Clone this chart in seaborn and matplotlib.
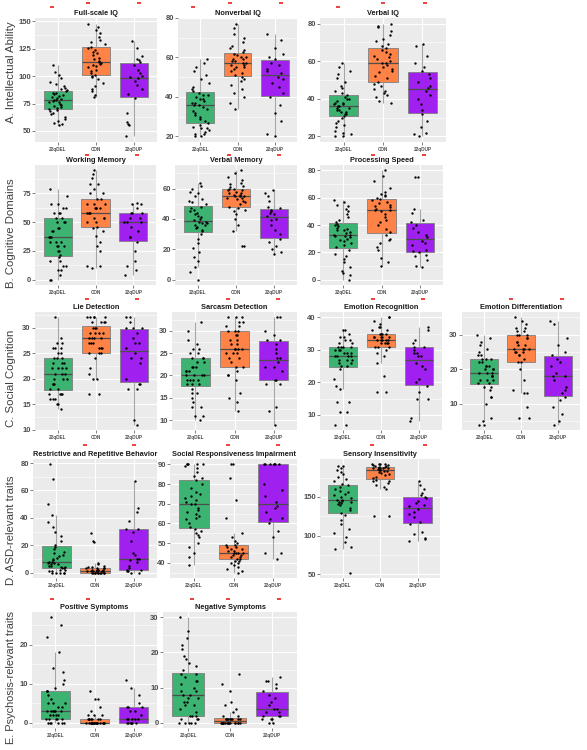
import numpy as np
import pandas as pd
import matplotlib
matplotlib.use('Agg')
import matplotlib.pyplot as plt
from matplotlib.ticker import AutoMinorLocator
import matplotlib.transforms as mtransforms
import seaborn as sns

plt.rcParams['font.family'] = ['Liberation Sans', 'DejaVu Sans']
np.random.seed(3)  # only for the strip jitter

groups = ['22qDEL', 'CON', '22qDUP']
colors = ['#3CB371', '#FF8247', '#A020F0']

# ---------------- data ----------------
# A. Intellectual ability
fsiq_del = [55, 56, 57, 59, 61, 63, 65, 66, 68, 69, 70, 71, 72, 73, 74, 75, 76, 76, 77, 78,
            78, 79, 80, 81, 82, 83, 84, 85, 85, 86, 87, 88, 89, 91, 93, 95, 98, 101, 104, 110]
fsiq_con = [81, 83, 86, 88, 91, 94, 97, 99, 100, 101, 103, 105, 106, 108, 109, 110, 111, 112,
            113, 114, 116, 117, 119, 121, 122, 124, 126, 127, 129, 131, 133, 136, 139, 142, 145, 148]
fsiq_dup = [45, 55, 56, 58, 66, 80, 84, 88, 92, 96, 98, 99, 100, 103, 106, 110, 113,
            115, 116, 118, 126, 132]

nviq_del = [20, 20, 21, 21, 22, 23, 24, 24, 25, 26, 27, 28, 29, 30, 31, 32, 33, 34, 35, 36,
            36, 37, 37, 38, 39, 39, 40, 41, 41, 42, 43, 44, 45, 47, 49, 51, 53, 55, 57, 59]
nviq_con = [34, 37, 40, 42, 44, 46, 48, 49, 50, 51, 52, 53, 54, 55, 55, 56, 56, 57,
            57, 58, 58, 59, 59, 60, 60, 61, 62, 63, 64, 65, 66, 68, 70, 72, 75, 77]
nviq_dup = [20, 21, 28, 32, 36, 40, 42, 45, 47, 49, 50, 52, 53, 54, 56, 57, 59,
            60, 62, 65, 69, 72]

viq_del = [20, 20, 21, 22, 23, 25, 26, 27, 28, 30, 31, 32, 32, 33, 33, 34, 34, 35, 35, 36,
           36, 37, 37, 38, 38, 39, 40, 40, 41, 42, 43, 44, 46, 47, 49, 51, 53, 55, 57, 59]
viq_con = [38, 39, 41, 42, 43, 44, 45, 47, 48, 49, 51, 52, 54, 55, 56, 57, 58, 59,
           59, 60, 61, 62, 63, 64, 65, 66, 67, 68, 69, 71, 72, 74, 76, 78, 79, 80]
viq_dup = [20, 21, 22, 25, 28, 32, 34, 37, 40, 42, 44, 46, 47, 49, 51, 53, 55,
           57, 59, 63, 68, 69]

# B. Cognitive domains
wm_del = [0, 0, 4, 8, 8, 12, 12, 16, 16, 20, 21, 25, 25, 29, 29, 29, 33, 33, 33, 37,
          37, 37, 42, 42, 45, 45, 50, 50, 50, 54, 54, 58, 58, 58, 62, 62, 66, 66, 73, 79]
wm_con = [10, 12, 12, 25, 29, 33, 38, 42, 45, 46, 50, 50, 54, 54, 54, 58, 58, 58,
          58, 62, 62, 62, 62, 66, 66, 66, 70, 70, 75, 75, 79, 83, 83, 88, 92, 95]
wm_dup = [4, 8, 12, 16, 25, 33, 37, 37, 42, 46, 50, 50, 50, 54, 54, 58, 58,
          58, 62, 66, 66, 67]

vm_del = [0, 5, 8, 12, 15, 18, 21, 24, 27, 30, 32, 33, 34, 35, 36, 36, 37, 37, 38, 38,
          39, 40, 41, 42, 43, 44, 45, 46, 47, 48, 50, 51, 52, 53, 55, 57, 58, 60, 62, 64]
vm_con = [22, 22, 32, 36, 40, 43, 45, 46, 47, 48, 50, 51, 52, 53, 54, 54, 55, 55,
          55, 56, 56, 57, 57, 58, 59, 59, 60, 60, 61, 62, 63, 64, 66, 68, 70, 72]
vm_dup = [17, 18, 20, 22, 25, 27, 30, 33, 36, 39, 40, 42, 43, 44, 45, 46, 47,
          48, 52, 55, 57, 59]

ps_del = [0, 3, 5, 6, 9, 13, 15, 17, 19, 22, 24, 25, 27, 28, 29, 30, 31, 32, 32, 33,
          33, 34, 35, 36, 36, 37, 38, 39, 40, 41, 42, 44, 46, 48, 50, 52, 54, 55, 57, 58]
ps_con = [10, 13, 16, 22, 24, 27, 29, 30, 33, 35, 37, 40, 42, 44, 46, 48, 50, 51,
          51, 52, 53, 54, 55, 56, 57, 58, 59, 60, 61, 62, 63, 64, 67, 72, 76, 80]
ps_dup = [9, 10, 14, 17, 18, 20, 21, 22, 25, 27, 28, 31, 33, 35, 38, 40, 42,
          44, 49, 52, 75, 75]

# C. Social cognition
lie_del = [14, 15, 15, 16, 16, 16, 17, 17, 17, 17, 18, 18, 19, 19, 19, 20, 20, 20, 21, 21,
           21, 22, 22, 22, 22, 23, 23, 23, 24, 24, 24, 25, 25, 26, 26, 26, 27, 27, 28, 32]
lie_con = [17, 17, 20, 20, 21, 22, 24, 25, 25, 25, 26, 26, 26, 27, 27, 27, 28, 28,
           28, 28, 29, 29, 29, 29, 30, 30, 30, 31, 31, 31, 31, 32, 32, 32, 32, 32]
lie_dup = [11, 12, 18, 18, 19, 19, 20, 23, 24, 24, 25, 26, 27, 27, 28, 29, 30,
           30, 30, 31, 32, 32]

sar_del = [10, 11, 11, 13, 13, 14, 15, 16, 16, 17, 18, 18, 18, 19, 19, 19, 19, 20, 20, 20,
           20, 21, 21, 21, 22, 22, 22, 23, 23, 24, 24, 24, 25, 25, 26, 26, 27, 28, 30, 32]
sar_con = [12, 14, 15, 16, 19, 20, 20, 21, 22, 22, 23, 24, 24, 25, 25, 25, 26, 26,
           26, 26, 27, 27, 28, 28, 29, 29, 30, 30, 30, 31, 31, 32, 32, 33, 33, 33]
sar_dup = [9, 12, 13, 18, 18, 19, 19, 21, 22, 22, 23, 24, 24, 25, 26, 27, 28,
           28, 29, 30, 33, 33]

er_del = [7, 7, 11, 11, 14, 14, 18, 19, 21, 24, 25, 25, 26, 26, 27, 27, 27, 28, 28, 28,
          28, 29, 29, 29, 30, 30, 30, 31, 31, 31, 31, 32, 32, 33, 33, 34, 34, 35, 36, 36]
er_con = [17, 17, 22, 26, 28, 29, 30, 31, 31, 31, 32, 32, 32, 32, 33, 33, 33, 33,
          33, 34, 34, 34, 34, 34, 35, 35, 35, 35, 36, 36, 37, 37, 38, 39, 40, 40]
er_dup = [8, 9, 15, 15, 17, 19, 20, 21, 24, 25, 26, 28, 28, 29, 29, 30, 31,
          31, 32, 33, 36, 37]

ed_del = [4, 4, 5, 6, 10, 12, 12, 14, 15, 15, 16, 16, 17, 17, 17, 18, 18, 18, 19, 19,
          19, 20, 20, 20, 21, 21, 21, 22, 22, 23, 23, 23, 24, 24, 25, 26, 27, 28, 29, 30]
ed_con = [6, 6, 9, 13, 13, 14, 17, 20, 22, 22, 23, 24, 24, 25, 25, 25, 26, 26,
          26, 26, 27, 27, 28, 28, 29, 29, 30, 30, 30, 31, 31, 32, 32, 33, 34, 35]
ed_dup = [4, 5, 7, 9, 11, 12, 13, 14, 15, 17, 18, 18, 19, 21, 22, 23, 24,
          25, 27, 29, 33, 34]

# D. ASD-relevant traits
rrb_del = [0, 0, 0, 0, 0, 1, 1, 2, 2, 3, 3, 4, 4, 5, 5, 6, 6, 7, 7, 8,
           8, 9, 10, 11, 12, 13, 14, 15, 17, 19, 20, 23, 27, 30, 33, 37, 42, 50, 68, 79]
rrb_con = [0, 0, 0, 0, 0, 0, 0, 0, 0, 0, 1, 1, 1, 1, 1, 1, 1, 1,
           1, 2, 2, 2, 2, 2, 3, 3, 3, 3, 4, 4, 5, 6, 7, 22, 23, 29]
rrb_dup = [0, 0, 1, 1, 2, 2, 3, 5, 8, 9, 10, 10, 13, 14, 23, 30, 32,
           32, 38, 44, 47, 67]

sri_del = [39, 43, 45, 48, 50, 53, 54, 55, 56, 57, 58, 60, 62, 63, 64, 65, 66, 67, 68, 70,
           70, 71, 72, 73, 74, 75, 76, 78, 80, 82, 83, 84, 86, 88, 89, 90, 90, 90, 90, 90]
sri_con = [35, 36, 37, 38, 39, 40, 40, 41, 41, 42, 42, 43, 43, 44, 44, 45, 45, 45,
           45, 46, 46, 47, 47, 48, 48, 49, 49, 50, 51, 53, 55, 63, 72, 83, 90, 90]
sri_dup = [42, 45, 45, 53, 56, 60, 62, 63, 66, 68, 69, 71, 74, 77, 80, 90, 90,
           90, 90, 90, 90, 90]

sens_del = [52, 82, 85, 92, 98, 103, 108, 115, 120, 127, 129, 133, 136, 139, 141, 142, 143, 144, 145, 146,
            146, 148, 150, 152, 154, 156, 158, 160, 163, 165, 167, 170, 173, 176, 179, 182, 185, 188, 190, 190]
sens_con = [125, 125, 160, 163, 166, 168, 170, 171, 172, 174, 176, 178, 180, 181, 182, 183, 184, 185,
            185, 186, 186, 187, 187, 188, 188, 188, 189, 189, 190, 190, 191, 191, 192, 192, 192, 192]
sens_dup = [93, 95, 97, 102, 105, 115, 118, 124, 128, 131, 134, 138, 140, 142, 145, 148, 150,
            152, 155, 160, 165, 170]

# E. Psychosis-relevant traits
pos_del = [0, 0, 0, 0, 0, 0, 1, 1, 1, 1, 1, 2, 2, 2, 2, 3, 3, 3, 3, 3,
           3, 4, 4, 5, 5, 5, 6, 7, 8, 8, 8, 9, 10, 11, 13, 14, 18, 22, 25, 27]
pos_con = [0, 0, 0, 0, 0, 0, 0, 0, 0, 0, 0, 0, 0, 0, 0, 0, 0, 0,
           0, 0, 0, 1, 1, 1, 1, 1, 1, 1, 2, 2, 2, 3, 4, 6, 6, 8]
pos_dup = [0, 0, 0, 0, 0, 0, 0, 1, 1, 1, 1, 1, 2, 3, 3, 4, 4,
           4, 5, 7, 9, 11]

neg_del = [0, 0, 0, 0, 0, 1, 1, 1, 2, 2, 2, 3, 4, 5, 5, 6, 6, 7, 7, 8,
           8, 9, 9, 10, 11, 12, 12, 13, 14, 14, 15, 16, 17, 18, 19, 21, 22, 24, 26, 30]
neg_con = [0, 0, 0, 0, 0, 0, 0, 0, 0, 0, 0, 0, 0, 0, 0, 0, 0, 0,
           1, 1, 1, 1, 1, 1, 1, 1, 1, 2, 2, 3, 4, 5, 6, 9, 11, 14]
neg_dup = [0, 0, 1, 1, 1, 2, 2, 2, 3, 3, 4, 4, 5, 6, 7, 8, 9,
           10, 11, 12, 12, 13]

row_labels = ['A. Intellectual Ability', 'B. Cognitive Domains', 'C. Social Cognition',
              'D. ASD-relevant traits', 'E. Psychosis-relevant traits']

# panel: title, data, y ticks, plot box in pixels (x0, y0, x1, y1), red marks (x in group units)
panels = [
    ('Full-scale IQ', (fsiq_del, fsiq_con, fsiq_dup), [50, 75, 100, 125, 150], (35, 18, 157, 142), [-0.15, 0.8, 2.13]),
    ('Nonverbal IQ', (nviq_del, nviq_con, nviq_dup), [20, 40, 60, 80], (178, 18, 297, 142), [-0.2, 0.8, 2.17]),
    ('Verbal IQ', (viq_del, viq_con, viq_dup), [20, 40, 60, 80], (320, 18, 446, 142), [-0.14, 1.0, 2.07]),
    ('Working Memory', (wm_del, wm_con, wm_dup), [0, 25, 50, 75], (35, 165, 156, 285), [0.78, 2.1]),
    ('Verbal Memory', (vm_del, vm_con, vm_dup), [0, 20, 40, 60], (175, 165, 297, 285), [0.82, 2.13]),
    ('Processing Speed', (ps_del, ps_con, ps_dup), [0, 20, 40, 60, 80], (320, 165, 443, 285), [0.78, 2.11]),
    ('Lie Detection', (lie_del, lie_con, lie_dup), [10, 15, 20, 25, 30], (35, 312, 157, 430), [0.76, 2.08]),
    ('Sarcasm Detection', (sar_del, sar_con, sar_dup), [10, 15, 20, 25, 30], (172, 312, 297, 430), [0.84, 2.12]),
    ('Emotion Recognition', (er_del, er_con, er_dup), [10, 20, 30, 40], (320, 312, 442, 430), [0.79, 2.1]),
    ('Emotion Differentiation', (ed_del, ed_con, ed_dup), [10, 20, 30], (462, 312, 580, 430), [0.73, 2.11]),
    ('Restrictive and Repetitive Behavior', (rrb_del, rrb_con, rrb_dup), [0, 20, 40, 60, 80], (33, 459, 157, 578), [0.74, 2.0]),
    ('Social Responsiveness Impairment', (sri_del, sri_con, sri_dup), [40, 50, 60, 70, 80, 90], (170, 459, 297, 578), [0.86, 2.12]),
    ('Sensory Insensitivity', (sens_del, sens_con, sens_dup), [50, 100, 150], (320, 459, 440, 578), [0.79, 2.2]),
    ('Positive Symptoms', (pos_del, pos_con, pos_dup), [0, 10, 20], (32, 612, 157, 728), [-0.09, 0.84]),
    ('Negative Symptoms', (neg_del, neg_con, neg_dup), [0, 10, 20, 30], (163, 612, 297, 728), [0.09, 0.95, 2.17]),
]

# how far (px) the red marks sit above the top of each row of panels
mark_gap = {18: 15, 165: 10, 312: 13, 459: 14, 612: 13}

W, H = 587, 750
fig = plt.figure(figsize=(W / 100, H / 100), dpi=100)
fig.patch.set_facecolor('white')

for title, (d_del, d_con, d_dup), yticks, (x0, y0, x1, y1), marks in panels:
    ax = fig.add_axes([x0 / W, 1 - y1 / H, (x1 - x0) / W, (y1 - y0) / H])
    df = pd.DataFrame({
        'group': ['22qDEL'] * len(d_del) + ['CON'] * len(d_con) + ['22qDUP'] * len(d_dup),
        'value': d_del + d_con + d_dup,
    })
    ax.set_facecolor('#EBEBEB')
    sns.boxplot(data=df, x='group', y='value', hue='group', order=groups, hue_order=groups,
                palette=colors, saturation=1, width=0.75, showfliers=False, showcaps=False,
                linewidth=0.6, linecolor='#7F7F7F',
                whiskerprops={'color': '#A6A6A6', 'linewidth': 0.8},
                medianprops={'color': '#4D4D4D', 'linewidth': 0.9},
                legend=False, ax=ax)
    sns.stripplot(data=df, x='group', y='value', order=groups, color='black', size=1.7,
                  jitter=0.24, linewidth=0, ax=ax)
    vals = df['value']
    rng = vals.max() - vals.min()
    ax.set_ylim(vals.min() - 0.05 * rng, vals.max() + 0.05 * rng)
    ax.set_xlim(-0.6, 2.6)
    ax.set_yticks(yticks)
    ax.yaxis.set_minor_locator(AutoMinorLocator(2))
    ax.grid(True, which='major', color='white', linewidth=0.8)
    ax.grid(True, which='minor', axis='y', color='white', linewidth=0.4)
    ax.set_axisbelow(True)
    for s in ax.spines.values():
        s.set_visible(False)
    ax.set_xlabel('')
    ax.set_ylabel('')
    ax.tick_params(axis='y', which='major', length=2, width=0.5, color='#4D4D4D',
                   labelsize=5.5, labelcolor='#4D4D4D', pad=1)
    ax.tick_params(axis='y', which='minor', length=0)
    ax.tick_params(axis='x', length=2, width=0.5, color='#4D4D4D',
                   labelsize=3.3, labelcolor='#4D4D4D', pad=1.5)
    plt.setp(ax.get_yticklabels(), fontweight='bold')
    plt.setp(ax.get_xticklabels(), fontweight='bold')
    ax.set_title(title, fontsize=5.3, fontweight='bold', color='#1A1A1A', pad=2.5)
    # small red significance marks above each panel
    trans = mtransforms.blended_transform_factory(ax.transData, ax.transAxes)
    gap = mark_gap[y0]
    for m in marks:
        g = gap - 4 if (m < 0 and y0 == 18) else gap
        yy = 1 + g / (y1 - y0)
        ax.plot([m - 0.05, m + 0.05], [yy, yy], color='#E8312F', linewidth=1.3,
                transform=trans, clip_on=False, solid_capstyle='butt')

# row labels
row_y = [72, 233, 378, 530, 678]
row_fs = [8.2, 8.2, 8.2, 8.2, 7.9]
for lab, yy, fs in zip(row_labels, row_y, row_fs):
    fig.text(11 / W, 1 - yy / H, lab, rotation=90, ha='center', va='center',
             fontsize=fs, color='#404040')

fig.savefig('out.png', dpi=100)
